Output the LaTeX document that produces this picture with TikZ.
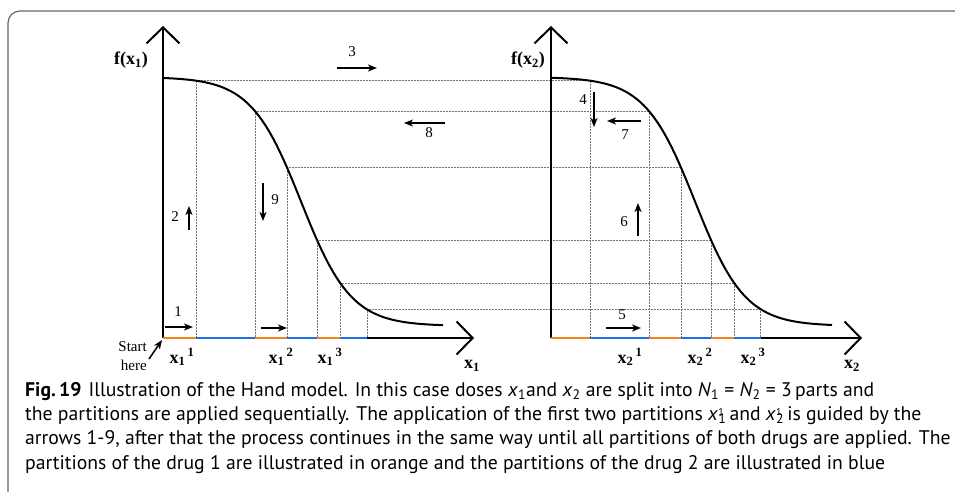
\documentclass[tikz,border=0pt]{standalone}
\usepackage{fontspec}
\usepackage{tikz}
\usetikzlibrary{arrows.meta, calc}
\newfontfamily\figfont{Liberation Serif}
\newfontfamily\capfont{PT Sans}
\definecolor{drugone}{RGB}{242,132,30}
\definecolor{drugtwo}{RGB}{30,112,232}
\newcommand{\xpart}[2]{x\textsubscript{#1}\textsuperscript{\,#2}}
\newcommand{\cx}[2]{\textit{#1}\textsubscript{#2}}
\newcommand{\cxx}[1]{\textit{x}\rlap{\raisebox{0.55ex}{\fontsize{10}{10}\selectfont 1}}\textsubscript{#1}}

\begin{document}
\begin{tikzpicture}[x=1pt, y=-1pt, >=Stealth,
    declare function={effA(\x)=77+249/(1+exp(-(\x-301)/25));
                      effB(\x)=77+249/(1+exp(-(\x-695)/25));
                      doseB(\y)=695-25*ln(249/(\y-77)-1);},
    axis/.style ={line width=2pt, -{Straight Barb[length=16pt,width=33pt]}},
    resp/.style ={line width=2pt},
    guide/.style={densely dotted, line width=0.5pt, black!55},
    part1/.style={line width=2.2pt, drugone},
    part2/.style={line width=2.2pt, drugtwo},
    move/.style ={line width=1.5pt, -{Stealth[length=9pt,width=7pt,inset=2.5pt]}},
    num/.style  ={font=\figfont\fontsize{15}{15}\selectfont, inner sep=0pt},
    lab/.style  ={font=\figfont\fontsize{18}{18}\selectfont\bfseries, inner sep=0pt},
    captext/.style={font=\capfont\fontsize{19.7}{24.2}\selectfont, align=left, inner sep=0pt}]
    \useasboundingbox (0,0) rectangle (955,492);
    % frame
    \draw[black!60, line width=1.2pt, rounded corners=12pt] (8,492) -- (8,11) -- (955,11);
    % origins
    \coordinate (o1) at (163,338);
    \coordinate (o2) at (551,338);
    % equal-effect guides
    \foreach \xa [count=\k] in {196,255,287,317,340,367} {
      \pgfmathsetmacro{\ya}{effA(\xa)}
      \pgfmathsetmacro{\xb}{doseB(\ya)}
      \coordinate (a\k) at (\xa,\ya);
      \coordinate (b\k) at (\xb,\ya);
      \draw[guide] (a\k) -- (b\k) (a\k) -- (a\k |- o1) (b\k) -- (b\k |- o2);
    }
    % axes
    \draw[axis] (o1) -- (163,26);
    \draw[axis] (o1) -- (474,338);
    \draw[axis] (o2) -- (551,26);
    \draw[axis] (o2) -- (862,338);
    % responses
    \draw[resp] plot[domain=163:443, samples=80] (\x,{effA(\x)});
    \draw[resp] plot[domain=551:832, samples=80] (\x,{effB(\x)});
    % partitions on the dose axes
    \draw[part1] (o1) -- (a1 |- o1);
    \draw[part2] (a1 |- o1) -- (a2 |- o1);
    \draw[part1] (a2 |- o1) -- (a3 |- o1);
    \draw[part2] (a3 |- o1) -- (a4 |- o1);
    \draw[part1] (a4 |- o1) -- (a5 |- o1);
    \draw[part2] (a5 |- o1) -- (a6 |- o1);
    \draw[part1] (o2) -- (b1 |- o2);
    \draw[part2] (b1 |- o2) -- (b2 |- o2);
    \draw[part1] (b2 |- o2) -- (b3 |- o2);
    \draw[part2] (b3 |- o2) -- (b4 |- o2);
    \draw[part1] (b4 |- o2) -- (b5 |- o2);
    \draw[part2] (b5 |- o2) -- (b6 |- o2);
    % axis labels
    \node[lab, anchor=east] (fa) at (148,60) {f(x\textsubscript{1})};
    \node[lab, anchor=east] (fb) at (545,60) {f(x\textsubscript{2})};
    \node[lab] (xa) at (472,366) {x\textsubscript{1}};
    \node[lab] (xb) at (852,366) {x\textsubscript{2}};
    \node[lab] (xa1) at (182,357) {\xpart{1}{1}};
    \node[lab] (xa2) at (281,357) {\xpart{1}{2}};
    \node[lab] (xa3) at (330,357) {\xpart{1}{3}};
    \node[lab] (xb1) at (630,357) {\xpart{2}{1}};
    \node[lab] (xb2) at (700,357) {\xpart{2}{2}};
    \node[lab] (xb3) at (753,357) {\xpart{2}{3}};
    \node[num, align=right, anchor=east] (start) at (147,356) {Start\\[4pt]here};
    % steps
    \coordinate (s0) at (149,359);
    \draw[move] (s0) -- (162,340);
    \node[num] (n1) at (178,312) {1};
    \node[num] (n2) at (175,217) {2};
    \node[num] (n3) at (352,52) {3};
    \node[num] (n4) at (583,100) {4};
    \node[num] (n5) at (622,315) {5};
    \node[num] (n6) at (624,222) {6};
    \node[num] (n7) at (625,135) {7};
    \node[num] (n8) at (429,133) {8};
    \node[num] (n9) at (275,200) {9};
    \draw[move] (165,327) -- (193,327);
    \draw[move] (189,230) -- (189,206);
    \draw[move] (337,68) -- (377,68);
    \draw[move] (594,92) -- (594,127);
    \draw[move] (606,328) -- (641,328);
    \draw[move] (638,236) -- (638,203);
    \draw[move] (641,121) -- (607,121);
    \draw[move] (445,123) -- (404,123);
    \draw[move] (263,183) -- (263,221);
    \draw[move] (261,328) -- (287,328);
    % caption
    \node[captext, anchor=base west] (caption) at (25,469)
      {\textbf{Fig.\,19}\hspace{7pt}Illustration of the Hand model. In this case doses \cx{x}{1}and \cx{x}{2} are split into \cx{N}{1} = \cx{N}{2} = 3\,parts and\\
       the partitions are applied sequentially. The application of the first two partitions \cxx{1}\,and \cxx{2}\,is guided by the\\
       arrows 1-9, after that the process continues in the same way until all partitions of both drugs are applied. The\\
       partitions of the drug 1 are illustrated in orange and the partitions of the drug 2 are illustrated in blue};
\end{tikzpicture}
\end{document}
